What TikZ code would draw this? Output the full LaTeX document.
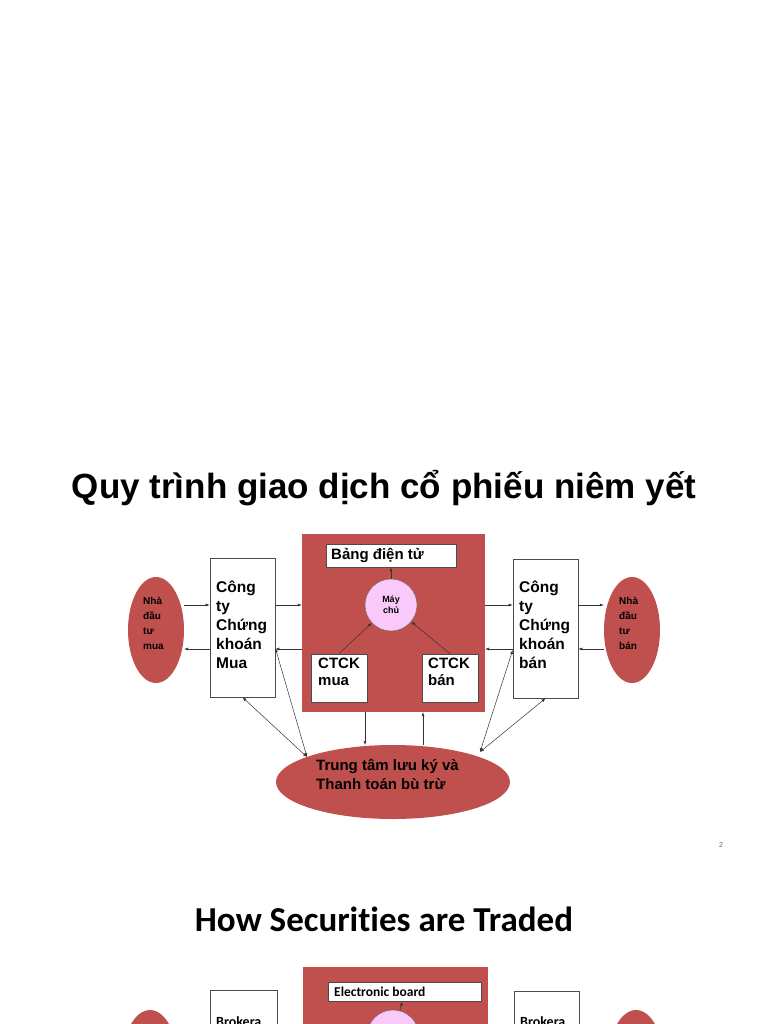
\documentclass[tikz,border=0pt]{standalone}
\usepackage{fontspec}
\setmainfont{Liberation Sans}
\newfontfamily\calib[Ligatures=NoCommon]{Carlito}
\usetikzlibrary{arrows.meta,shapes.geometric}
\definecolor{dred}{HTML}{C0504D}
\definecolor{pinkc}{HTML}{F9C9F9}
\begin{document}
\begin{tikzpicture}[x=1pt,y=-1pt,
  box/.style={draw=black!70,fill=white,line width=0.6pt,inner sep=0},
  ell/.style={ellipse,fill=dred,draw=none,inner sep=0},
  arr/.style={-{Latex[length=4pt,width=3pt]},line width=0.5pt,black!80},
  barr/.style={{Latex[length=4pt,width=3pt]}-{Latex[length=4pt,width=3pt]},line width=0.5pt,black!80},
  lbl/.style={font=\bfseries\fontsize{15}{18}\selectfont,align=left,anchor=north west,inner sep=0}]
\useasboundingbox (0,0) rectangle (768,1024);
\node[font=\bfseries\fontsize{35}{38}\selectfont] (title) at (384,488) {Quy trình giao dịch cổ phiếu niêm yết};
% central square
\node[fill=dred,minimum width=183pt,minimum height=178pt,inner sep=0] (sq) at (393.5,623) {};
\node[box,minimum width=130pt,minimum height=23pt] (bd) at (391,555.5) {};
\node[font=\bfseries\fontsize{15}{16}\selectfont,anchor=west,inner sep=0] (bdt) at (331,555) {Bảng điện tử};
\node[circle,fill=pinkc,draw=black!60,minimum size=52pt,inner sep=0,font=\bfseries\fontsize{9}{11}\selectfont,align=center] (mc) at (391,605) {Máy\\chủ};
\node[box,minimum width=56pt,minimum height=48pt] (cm) at (339,678) {};
\node[lbl,font=\bfseries\fontsize{15}{17}\selectfont] (cmt) at (318,658) {CTCK\\mua};
\node[box,minimum width=56pt,minimum height=48pt] (cb) at (450,678) {};
\node[lbl,font=\bfseries\fontsize{15}{17}\selectfont] (cbt) at (428,658) {CTCK\\bán};
% side boxes
\node[box,minimum width=65pt,minimum height=139pt] (lb) at (242.5,627.5) {};
\node[lbl,font=\bfseries\fontsize{15.5}{19}\selectfont] (lbt) at (216,581) {Công\\ty\\Chứng\\khoán\\Mua};
\node[box,minimum width=65pt,minimum height=139pt] (rb) at (545.5,628.5) {};
\node[lbl,font=\bfseries\fontsize{15.5}{19}\selectfont] (rbt) at (519,581) {Công\\ty\\Chứng\\khoán\\bán};
% ellipses
\node[ell,minimum width=56pt,minimum height=106pt] (le) at (156,630) {};
\node[lbl,font=\bfseries\fontsize{10}{15}\selectfont] (let) at (143,597) {Nhà\\đầu\\tư\\mua};
\node[ell,minimum width=56pt,minimum height=106pt] (re) at (632,630) {};
\node[lbl,font=\bfseries\fontsize{10}{15}\selectfont] (ret) at (619,597) {Nhà\\đầu\\tư\\bán};
\node[ell,minimum width=234pt,minimum height=74pt] (be) at (393,782) {};
\node[lbl,font=\bfseries\fontsize{15}{19}\selectfont] (bet) at (316,759) {Trung tâm lưu ký và\\Thanh toán bù trừ};
% arrows
\draw[arr] (le.east |- 0,605) -- (lb.west |- 0,605);
\draw[arr] (lb.west |- 0,649) -- (le.east |- 0,649);
\draw[arr] (lb.east |- 0,605) -- (sq.west |- 0,605);
\draw[arr] (sq.west |- 0,649) -- (lb.east |- 0,649);
\draw[arr] (sq.east |- 0,605) -- (rb.west |- 0,605);
\draw[arr] (rb.west |- 0,649) -- (sq.east |- 0,649);
\draw[arr] (rb.east |- 0,605) -- (re.west |- 0,605);
\draw[arr] (re.west |- 0,649) -- (rb.east |- 0,649);
\draw[arr] (mc) -- (bd);
\draw[arr] (cm.north) -- (mc);
\draw[arr] (cb.north) -- (mc);
\draw[arr] (sq.south -| 365,0) -- (365,745);
\coordinate (bup) at (423,745);
\draw[arr] (bup) -- (sq.south -| bup);
\coordinate (bl) at (307,757);
\coordinate (br) at (480,752);
\draw[barr] (lb.south) -- (bl);
\draw[barr] (lb.east |- 0,648) -- (bl);
\draw[barr] (rb.south) -- (br);
\draw[barr] (rb.west |- 0,650) -- (br);
\node[font=\fontsize{7}{8}\selectfont,text=black!60] (pg) at (721,845) {2};
% second slide
\node[font=\calib\bfseries\fontsize{35}{38}\selectfont] (t2) at (384,919) {How Securities are Traded};
\node[fill=dred,minimum width=185pt,minimum height=70pt,inner sep=0,anchor=north west] (sq2) at (303,967) {};
\node[box,minimum width=153pt,minimum height=19pt,anchor=north west] (eb) at (328,982) {};
\node[font=\calib\bfseries\fontsize{13.5}{15}\selectfont,anchor=west,inner sep=0] (ebt) at (334,992) {Electronic board};
\node[circle,fill=pinkc,draw=black!60,minimum size=52pt,inner sep=0] (mc2) at (393,1036) {};
\draw[arr] (mc2) -- (eb);
\node[box,minimum width=67pt,minimum height=50pt,anchor=north west] (lb2) at (210,990) {};
\node[font=\calib\bfseries\fontsize{14}{15}\selectfont,anchor=north west,inner sep=0] (lb2t) at (216,1016) {Brokera};
\node[box,minimum width=65pt,minimum height=50pt,anchor=north west] (rb2) at (514,991) {};
\node[font=\calib\bfseries\fontsize{14}{15}\selectfont,anchor=north west,inner sep=0] (rb2t) at (520,1016) {Brokera};
\node[ell,minimum width=56pt,minimum height=106pt] (le2) at (150,1063) {};
\node[ell,minimum width=56pt,minimum height=106pt] (re2) at (636,1063) {};
\end{tikzpicture}
\end{document}
